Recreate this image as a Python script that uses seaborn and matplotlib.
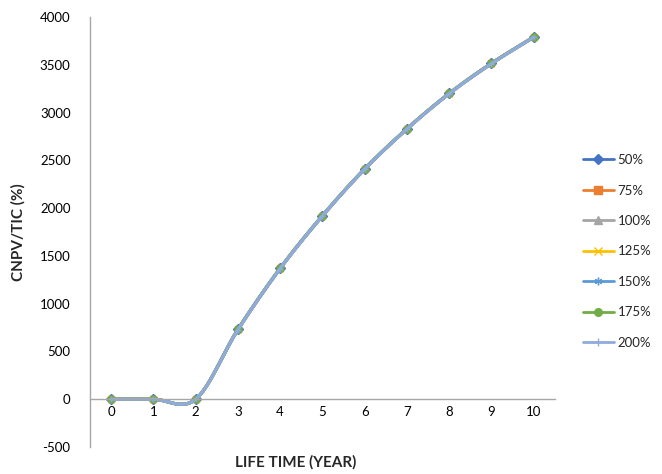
import matplotlib
matplotlib.use("Agg")
import matplotlib.pyplot as plt
from matplotlib.lines import Line2D
import numpy as np
import pandas as pd
import seaborn as sns

# data
years = [0, 1, 2, 3, 4, 5, 6, 7, 8, 9, 10]
series_names = ["50%", "75%", "100%", "125%", "150%", "175%", "200%"]
cnpv_50 = [0, 0, 0, 730, 1370, 1920, 2410, 2830, 3200, 3515, 3790]
cnpv_75 = [0, 0, 0, 730, 1370, 1920, 2410, 2830, 3200, 3515, 3790]
cnpv_100 = [0, 0, 0, 730, 1370, 1920, 2410, 2830, 3200, 3515, 3790]
cnpv_125 = [0, 0, 0, 728, 1368, 1918, 2408, 2828, 3198, 3512, 3788]
cnpv_150 = [0, 0, 0, 728, 1368, 1918, 2408, 2828, 3198, 3512, 3788]
cnpv_175 = [0, 0, 0, 730, 1370, 1920, 2410, 2830, 3200, 3515, 3790]
cnpv_200 = [0, 0, 0, 728, 1368, 1918, 2408, 2828, 3198, 3512, 3788]
all_series = [cnpv_50, cnpv_75, cnpv_100, cnpv_125, cnpv_150, cnpv_175, cnpv_200]

colors = ["#4472C4", "#ED7D31", "#A5A5A5", "#FFC000", "#5B9BD5", "#70AD47", "#8FAADC"]
markers = ["D", "s", "^", "x", (6, 2, 0), "o", "+"]


def smooth(x, y, n=30):
    """Excel style smoothed line (cardinal bezier, tension 1/6)"""
    x = np.asarray(x, float)
    y = np.asarray(y, float)
    px = np.concatenate([[x[0]], x, [x[-1]]])
    py = np.concatenate([[y[0]], y, [y[-1]]])
    xs, ys = [], []
    t = np.linspace(0, 1, n)
    for i in range(1, len(px) - 2):
        p0 = np.array([px[i], py[i]])
        p3 = np.array([px[i + 1], py[i + 1]])
        c1 = p0 + (np.array([px[i + 1], py[i + 1]]) - np.array([px[i - 1], py[i - 1]])) / 6
        c2 = p3 - (np.array([px[i + 2], py[i + 2]]) - np.array([px[i], py[i]])) / 6
        pts = ((1 - t) ** 3)[:, None] * p0 + (3 * (1 - t) ** 2 * t)[:, None] * c1 \
            + (3 * (1 - t) * t ** 2)[:, None] * c2 + (t ** 3)[:, None] * p3
        xs.extend(pts[:, 0])
        ys.extend(pts[:, 1])
    return xs, ys


sns.set_style("white")
plt.rcParams['font.family'] = ['Lato', 'DejaVu Sans']
plt.rcParams['axes.unicode_minus'] = False

fig = plt.figure(figsize=(6.62, 4.74), dpi=100)
ax = fig.add_axes([0.136, 0.057, 0.702, 0.907])

handles = []
for name, vals, col, mk in zip(series_names, all_series, colors, markers):
    sx, sy = smooth(years, vals)
    df = pd.DataFrame({"year": sx, "value": sy})
    sns.lineplot(data=df, x="year", y="value", ax=ax, color=col, lw=2.3,
                 sort=False, estimator=None)
    ax.plot(years, vals, linestyle="none", marker=mk, color=col, ms=5, mew=1.0)
    handles.append(Line2D([0], [0], color=col, lw=2.0, marker=mk, ms=5.5, mew=1.0))

ax.set_xlim(-0.5, 10.5)
ax.set_ylim(-500, 4000)
ax.set_xticks(years)
ax.set_yticks(range(-500, 4001, 500))
ax.tick_params(axis="both", length=0, labelsize=9.5, colors="#000000")
ax.tick_params(axis="y", pad=14)
ax.tick_params(axis="x", pad=5)

for s in ["top", "right"]:
    ax.spines[s].set_visible(False)
ax.spines["bottom"].set_position(("data", 0))
ax.spines["bottom"].set_color("#A6A6A6")
ax.spines["left"].set_color("#A6A6A6")
ax.spines["bottom"].set_linewidth(1)
ax.spines["left"].set_linewidth(1)

ax.set_xlabel("")
ax.set_ylabel("CNPV/TIC (%)", fontsize=11, fontweight="bold", labelpad=10)
fig.text(0.447, 0.025, "LIFE TIME (YEAR)", ha="center", va="center",
         fontsize=11, fontweight="bold")

fig.legend(handles, series_names, loc="upper left", bbox_to_anchor=(0.862, 0.7),
           frameon=False, fontsize=9.5, handlelength=2.4, labelspacing=1.4,
           handletextpad=0.25)

fig.savefig("out.png", dpi=100)
